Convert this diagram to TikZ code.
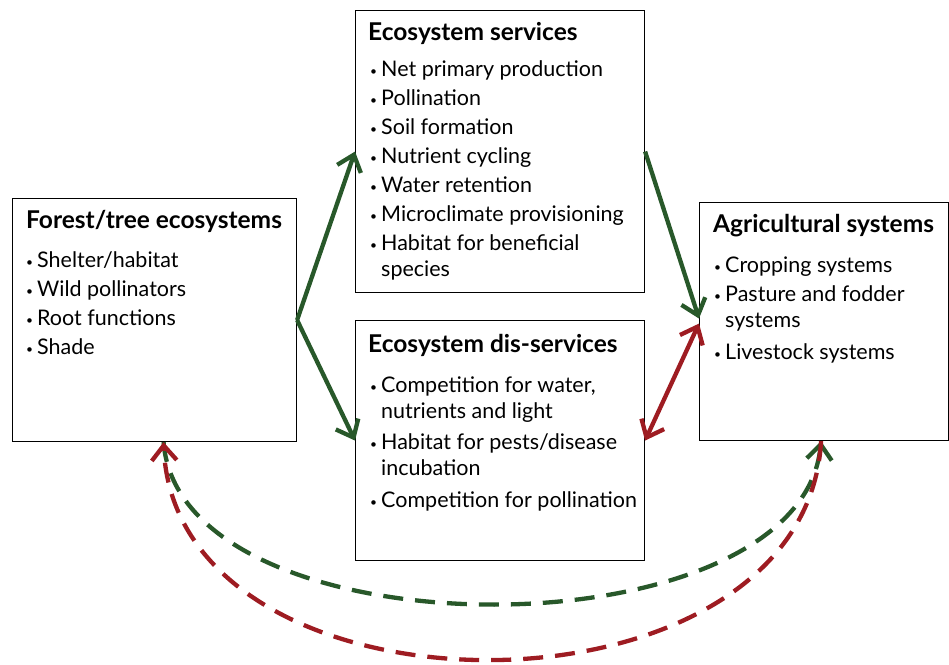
\documentclass[tikz,border=0pt]{standalone}
\usepackage{fontspec}
\setmainfont{Lato}
\usetikzlibrary{arrows.meta, positioning}

\definecolor{linkgreen}{RGB}{40,88,42}
\definecolor{linkred}{RGB}{158,28,34}

% bullet and hanging indent for the lists
\newcommand{\blt}{\makebox[11pt][l]{\raisebox{1pt}{\fontsize{12}{12}\selectfont\textbullet}}}
\newcommand{\cnt}{\hspace*{11pt}}

\begin{document}
\begin{tikzpicture}[x=1pt, y=-1pt,
        panel/.style={
            draw,
            line width=1.1pt,
            anchor=north west,
            inner sep=0pt
        },
        heading/.style={
            anchor=base west,
            inner sep=0pt,
            font=\bfseries\fontsize{24.5}{26}\selectfont
        },
        % lists are placed by the baseline of their last line
        itemlist/.style={
            anchor=base west,
            inner sep=0pt,
            align=left,
            font=\fontsize{21.5}{26}\selectfont
        },
        greenarrow/.style={
            -{Straight Barb[length=15pt, width=25pt]},
            line width=4.3pt,
            color=linkgreen
        },
        redarrow/.style={
            {Straight Barb[length=15pt, width=25pt]}-{Straight Barb[length=15pt, width=25pt]},
            line width=4.3pt,
            color=linkred
        },
        loopgreen/.style={
            greenarrow,
            dash pattern=on 20pt off 12pt
        },
        loopred/.style={
            -{Straight Barb[length=15pt, width=25pt]},
            line width=4.3pt,
            color=linkred,
            dash pattern=on 20pt off 12pt
        }
    ]

    \useasboundingbox (0,0) rectangle (949,664);

    % the four boxes
    \node[panel, minimum width=284pt, minimum height=243pt] (forest) at (12,198) {};
    \node[panel, minimum width=289pt, minimum height=282pt] (serv) at (355,10) {};
    \node[panel, minimum width=289pt, minimum height=240pt] (dis) at (355,320) {};
    \node[panel, minimum width=249pt, minimum height=238pt] (agri) at (699,202) {};

    \node[heading] (foresttitle) at (26,228) {Forest/tree ecosystems};
    \node[itemlist] (forestlist) at (26,354)
    {\blt Shelter/habitat\\[3pt]
     \blt Wild pollinators\\[3pt]
     \blt Root functions\\[3pt]
     \blt Shade};

    \node[heading] (servtitle) at (368,40) {Ecosystem services};
    \node[itemlist] (servlist) at (370,276)
    {\blt Net primary production\\[3pt]
     \blt Pollination\\[3pt]
     \blt Soil formation\\[3pt]
     \blt Nutrient cycling\\[3pt]
     \blt Water retention\\[3pt]
     \blt Microclimate provisioning\\[3pt]
     \blt Habitat for beneficial\\
     \cnt species};

    \node[heading] (distitle) at (368,352) {Ecosystem dis-services};
    \node[itemlist] (dislist) at (370,507)
    {\blt Competition for water,\\
     \cnt nutrients and light\\[5pt]
     \blt Habitat for pests/disease\\
     \cnt incubation\\[6pt]
     \blt Competition for pollination};

    \node[heading] (agrititle) at (713,232) {Agricultural systems};
    \node[itemlist] (agrilist) at (714,359)
    {\blt Cropping systems\\[3pt]
     \blt Pasture and fodder\\
     \cnt systems\\[6pt]
     \blt Livestock systems};

    % links between the boxes
    \draw[greenarrow] (forest.east) -- (serv.west);
    \draw[greenarrow] (forest.east) -- (dis.west);
    \draw[greenarrow] (serv.east) -- ([yshift=3pt]agri.west);
    \draw[redarrow] ([yshift=-2pt]agri.west) -- (dis.east);

    % dashed feedback loops underneath
    \draw[loopgreen] ([xshift=9pt]forest.south) .. controls (180,658) and (800,658) .. ([xshift=-3pt]agri.south);
    \draw[loopred] ([xshift=-3pt]agri.south) .. controls (805,732) and (175,732) .. ([xshift=9pt]forest.south);

\end{tikzpicture}
\end{document}
